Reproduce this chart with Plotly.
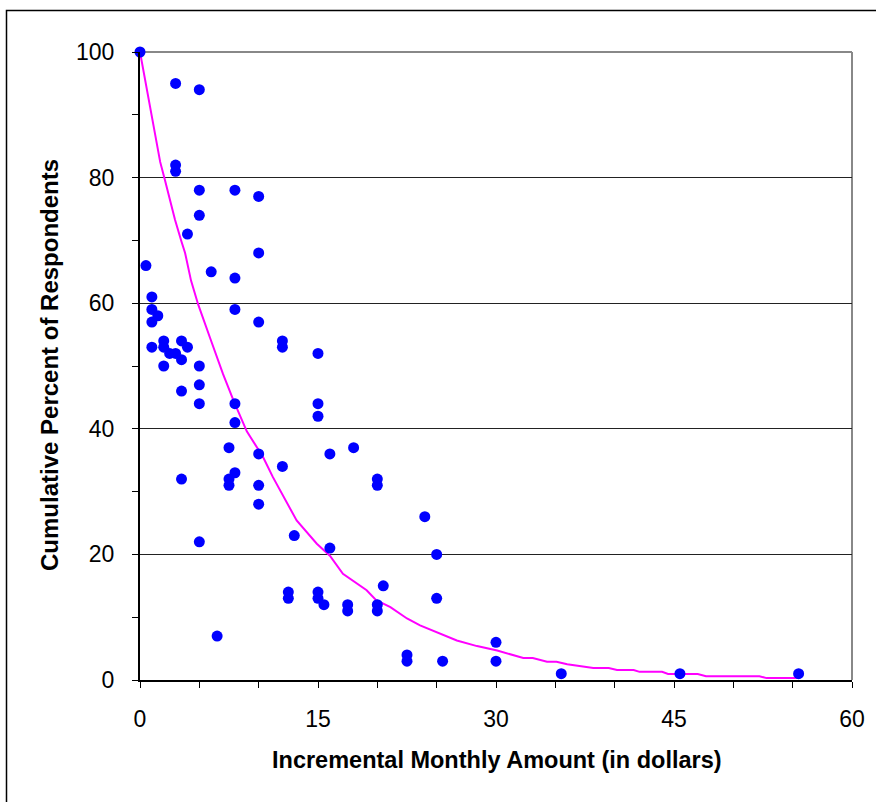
import plotly.graph_objects as go

# Scatter data: incremental monthly amount ($) vs cumulative percent of respondents
amount = [0, 3, 5, 3, 3, 5, 8, 10, 5, 4, 10, 0.5, 6, 8, 1, 1, 8, 1.5, 1, 10,
          2, 3.5, 12, 1, 2, 4, 12, 2.5, 3, 15, 3.5, 2, 5, 5, 3.5, 5, 8, 15, 15, 8,
          7.5, 18, 10, 16, 12, 8, 3.5, 7.5, 20, 7.5, 10, 20, 10, 24, 13, 5, 16, 25,
          20.5, 12.5, 15, 12.5, 15, 25, 15.5, 17.5, 20, 17.5, 20, 6.5, 30, 22.5,
          22.5, 25.5, 30, 35.5, 45.5, 55.5]
percent = [100, 95, 94, 82, 81, 78, 78, 77, 74, 71, 68, 66, 65, 64, 61, 59, 59, 58, 57, 57,
           54, 54, 54, 53, 53, 53, 53, 52, 52, 52, 51, 50, 50, 47, 46, 44, 44, 44, 42, 41,
           37, 37, 36, 36, 34, 33, 32, 32, 32, 31, 31, 31, 28, 26, 23, 22, 21, 20,
           15, 14, 14, 13, 13, 13, 12, 12, 12, 11, 11, 7, 6, 4,
           3, 3, 3, 1, 1, 1]

# Fitted curve
curve_x = [0, 0.84, 1.7, 2.1, 2.95, 3.5, 3.8, 4.3, 4.9, 5.9, 7.0, 7.9, 9.0, 10.4, 11.2,
           13.2, 14.9, 16.0, 17.1, 19.1, 19.9, 21.1, 22.5, 23.6, 24.5, 25.6, 26.7, 28.4,
           30.1, 32.3, 33.1, 34.3, 35.1, 36.0, 37.1, 38.2, 39.5, 40.2, 41.6, 42.1, 44.0,
           44.5, 47.0, 47.7, 52.2, 52.8, 55.5]
curve_y = [100, 91.3, 82.5, 79.6, 73.3, 69.8, 68.0, 63.6, 59.8, 54.5, 48.7, 44.4, 39.6, 35.4, 32.3,
           25.4, 21.7, 19.8, 16.9, 14.3, 12.7, 11.6, 9.8, 8.7, 8.0, 7.1, 6.3, 5.4,
           4.7, 3.5, 3.5, 2.9, 2.9, 2.5, 2.2, 1.9, 1.9, 1.6, 1.6, 1.3, 1.3,
           0.95, 0.95, 0.6, 0.6, 0.3, 0.3]

x_title = "Incremental Monthly Amount (in dollars)"
y_title = "Cumulative Percent of Respondents"

FONT = "Liberation Sans, Arial, sans-serif"

fig = go.Figure()
fig.add_trace(go.Scatter(x=curve_x, y=curve_y, mode="lines",
                         line=dict(color="#FF00FF", width=2), cliponaxis=False,
                         showlegend=False, hoverinfo="skip"))
fig.add_trace(go.Scatter(x=amount, y=percent, mode="markers",
                         marker=dict(color="#0000FF", size=11, line=dict(width=0)),
                         cliponaxis=False, showlegend=False))

fig.update_layout(
    width=876, height=802,
    margin=dict(l=140, r=24, t=52, b=122),
    paper_bgcolor="white", plot_bgcolor="white",
    font=dict(family=FONT, color="black", size=23),
    xaxis=dict(range=[0, 60], dtick=15, tick0=0, showgrid=False, zeroline=False,
               showline=True, linecolor="black", linewidth=2,
               ticks="outside", ticklen=6, tickwidth=1, tickcolor="black",
               ticklabelstandoff=11,
               minor=dict(dtick=5, ticks="outside", ticklen=6, tickwidth=1,
                          tickcolor="black", showgrid=False),
               tickfont=dict(size=23)),
    yaxis=dict(range=[0, 100], dtick=20, tick0=0, showgrid=True, gridcolor="#222222",
               gridwidth=1, zeroline=False,
               showline=True, linecolor="black", linewidth=2,
               ticks="outside", ticklen=6, tickwidth=1, tickcolor="black",
               ticklabelstandoff=13,
               minor=dict(dtick=10, ticks="outside", ticklen=6, tickwidth=1,
                          tickcolor="black", showgrid=False),
               tickfont=dict(size=23)),
    shapes=[
        # gray top and right border of plot area
        dict(type="line", xref="paper", yref="paper", x0=0, x1=1, y0=1, y1=1,
             line=dict(color="#888888", width=2), layer="below"),
        dict(type="line", xref="paper", yref="paper", x0=1, x1=1, y0=0, y1=1,
             line=dict(color="#888888", width=2), layer="below"),
        # outer chart frame
        dict(type="rect", xref="paper", yref="paper",
             x0=(6.5 - 140) / 712, x1=(890 - 140) / 712,
             y0=(680 - 820) / 628, y1=(680 - 10.5) / 628,
             line=dict(color="black", width=1.5), layer="below"),
    ],
    annotations=[
        dict(text="<b>" + x_title + "</b>", xref="paper", yref="paper",
             x=(497 - 140) / 712, y=(680 - 760) / 628, xanchor="center", yanchor="middle",
             showarrow=False, font=dict(size=23.5, family=FONT)),
        dict(text="<b>" + y_title + "</b>", xref="paper", yref="paper",
             x=(50 - 140) / 712, y=(680 - 365) / 628, xanchor="center", yanchor="middle",
             textangle=-90, showarrow=False, font=dict(size=24, family=FONT)),
    ],
)

fig.write_html("out.html")
